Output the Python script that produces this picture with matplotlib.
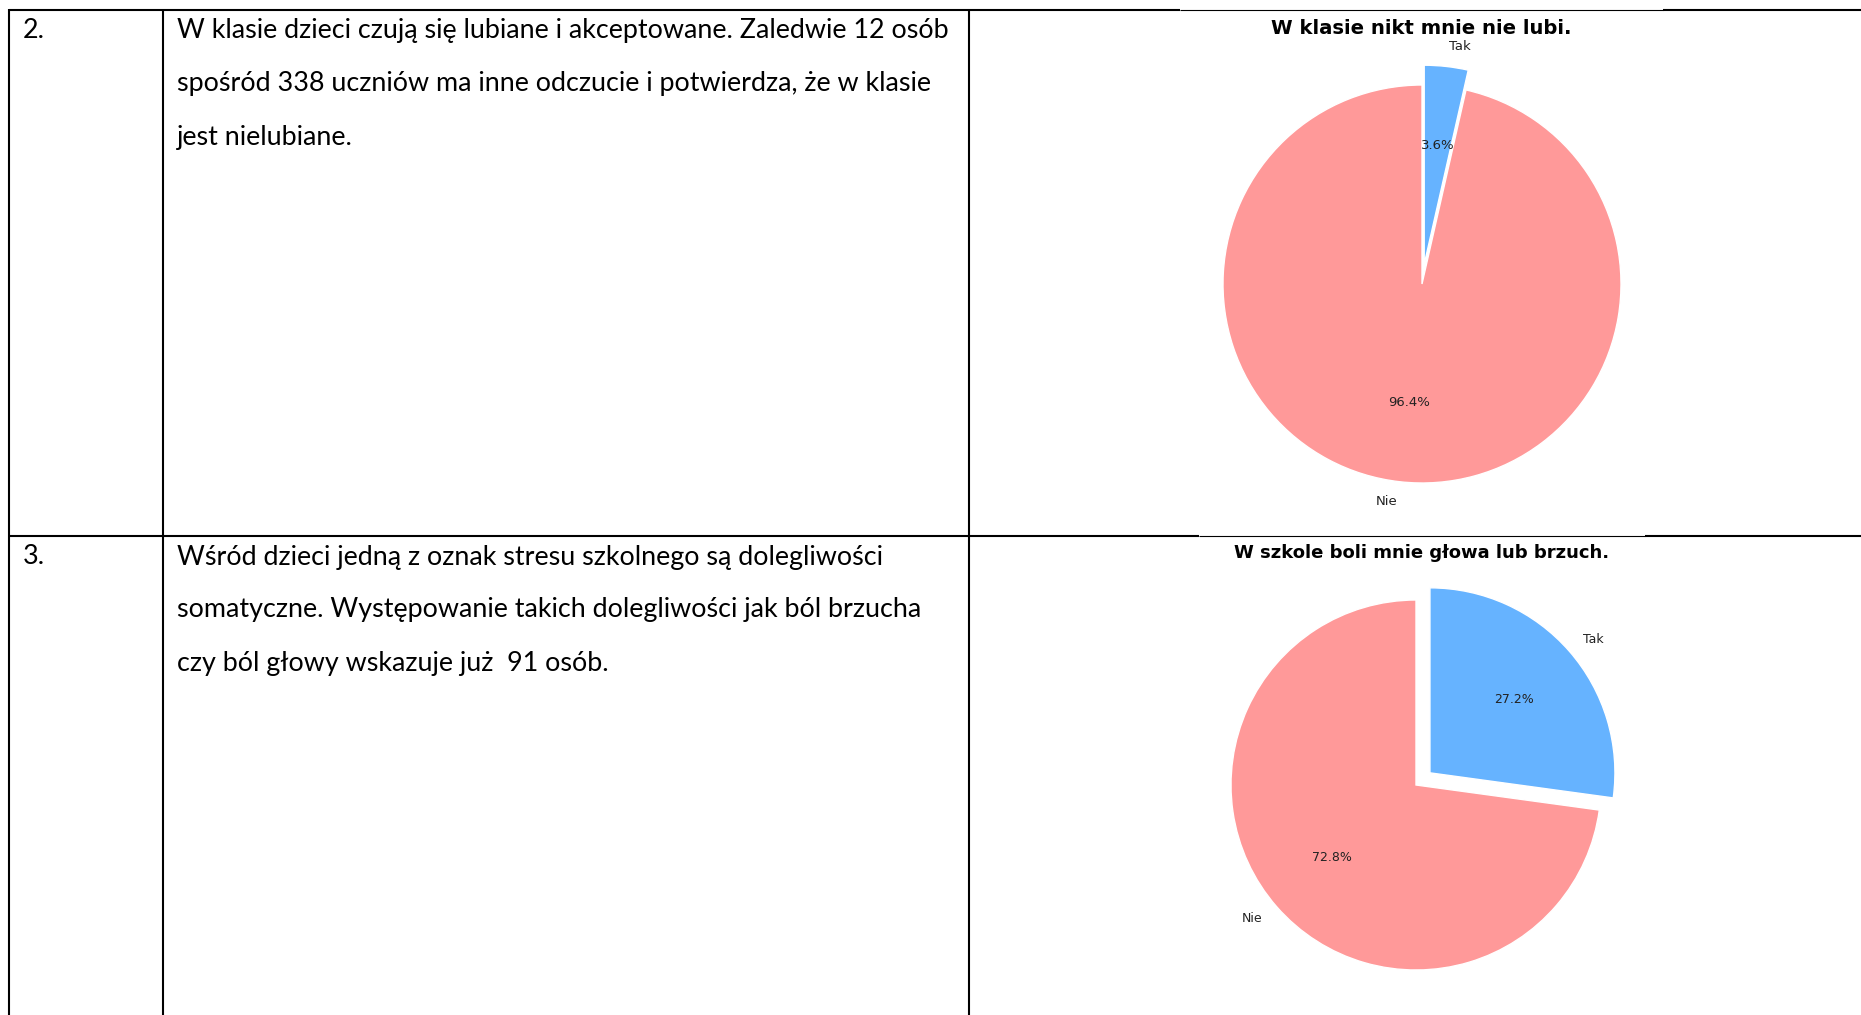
import matplotlib
matplotlib.use('Agg')
import matplotlib.pyplot as plt

W, H = 1861, 1015

row_numbers = ['2.', '3.']
row_texts = [
    ['W klasie dzieci czują się lubiane i akceptowane. Zaledwie 12 osób',
     'spośród 338 uczniów ma inne odczucie i potwierdza, że w klasie',
     'jest nielubiane.'],
    ['Wśród dzieci jedną z oznak stresu szkolnego są dolegliwości',
     'somatyczne. Występowanie takich dolegliwości jak ból brzucha',
     'czy ból głowy wskazuje już  91 osób.'],
]
chart_titles = ['W klasie nikt mnie nie lubi.', 'W szkole boli mnie głowa lub brzuch.']
slice_labels = ['Nie', 'Tak']
pie1_counts = [326, 12]
pie2_counts = [244, 91]
slice_colors = ['#ff9999', '#66b3ff']
explode = [0, 0.1]

fig = plt.figure(figsize=(W / 100, H / 100), dpi=100)
bg = fig.add_axes([0, 0, 1, 1])
bg.set_xlim(0, W)
bg.set_ylim(H, 0)
bg.axis('off')

LW = 1.5
def hline(y, x0, x1, lw=LW):
    bg.plot([x0, x1], [y, y], color='black', lw=lw, solid_capstyle='butt')
def vline(x, y0, y1, lw=LW):
    bg.plot([x, x], [y0, y1], color='black', lw=lw, solid_capstyle='butt')

# table grid
hline(10, 9, 1180); hline(10, 1180, 1663, lw=0.8); hline(10, 1663, W)
hline(536, 9, 1199); hline(536, 1199, 1645, lw=0.8); hline(536, 1645, W)
for x in (9, 163, 969):
    vline(x, 9.3, H)

# table text
txt_font = ['Lato', 'DejaVu Sans']
TFS = 19.4
row_y = [[30, 83, 137], [557, 610, 663]]
for num, lines, ys in zip(row_numbers, row_texts, row_y):
    bg.text(23, ys[0], num, va='center', ha='left', fontsize=TFS, family=txt_font)
    for s, y in zip(lines, ys):
        bg.text(177, y, s, va='center', ha='left', fontsize=TFS, family=txt_font)

def px_axes(cx, cy, R):
    side = 2.5 * R
    return fig.add_axes([(cx - side / 2) / W, 1 - (cy + side / 2) / H, side / W, side / H])

pies = [(1422, 284, 199, pie1_counts, 1421, 28, 9.5, 14.1),
        (1416, 785, 185, pie2_counts, 1422, 553, 9, 13)]
for (cx, cy, R, counts, tx, ty, fs, tfs), title in zip(pies, chart_titles):
    ax = px_axes(cx, cy, R)
    ax.pie(counts, labels=slice_labels, colors=slice_colors, explode=explode,
           autopct='%1.1f%%', startangle=90,
           wedgeprops={'edgecolor': 'white', 'linewidth': 1},
           textprops={'fontsize': fs, 'color': '#222222'})
    ax.set_aspect('equal')
    fig.text(tx / W, 1 - ty / H, title, ha='center', va='center',
             fontsize=tfs, fontweight='bold', family='DejaVu Sans')

fig.savefig('out.png', dpi=100)
